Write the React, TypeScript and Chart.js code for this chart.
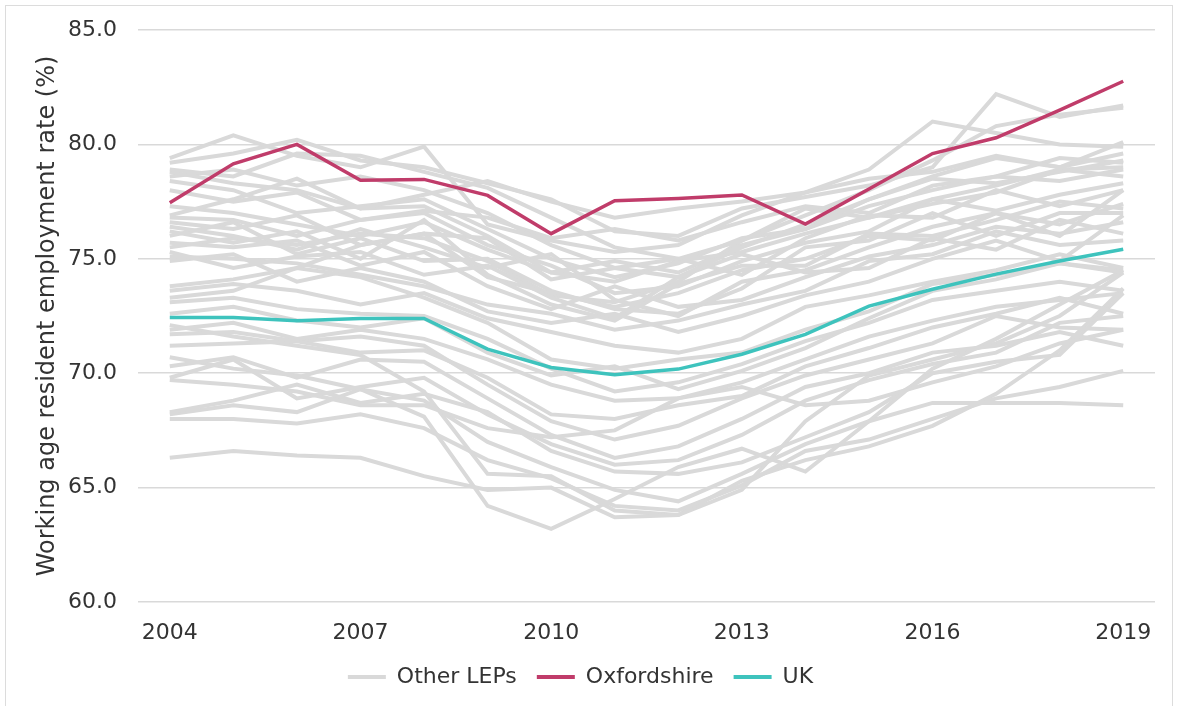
import React, { useEffect, useRef } from 'react';
import { Chart, registerables } from 'chart.js';

Chart.register(...registerables);

const years = ['2004', '2005', '2006', '2007', '2008', '2009', '2010', '2011', '2012', '2013', '2014', '2015', '2016', '2017', '2018', '2019'];
const xTickLabels = ['2004', '2007', '2010', '2013', '2016', '2019'];
const yTicks = [60, 65, 70, 75, 80, 85];

const oxfordshire = [77.45, 79.15, 80.0, 78.43, 78.47, 77.77, 76.1, 77.54, 77.64, 77.79, 76.52, 78.05, 79.6, 80.29, 81.5, 82.76];
const uk = [72.43, 72.43, 72.29, 72.39, 72.39, 71.05, 70.25, 69.93, 70.18, 70.83, 71.7, 72.93, 73.67, 74.33, 74.9, 75.42];

const lep01 = [79.4, 80.4, 79.5, 79.0, 79.9, 76.5, 75.8, 75.3, 75.6, 76.9, 77.9, 78.9, 81.0, 80.5, 80.0, 79.9];
const lep02 = [79.2, 79.6, 80.2, 79.3, 79.0, 78.3, 77.6, 76.2, 76.0, 77.2, 77.7, 78.2, 79.0, 82.2, 81.2, 81.7];
const lep03 = [78.9, 78.6, 79.6, 79.5, 78.8, 78.1, 76.8, 75.5, 75.0, 75.8, 76.9, 78.0, 79.3, 80.8, 81.3, 81.6];
const lep04 = [78.8, 78.3, 78.0, 77.2, 77.8, 78.4, 77.5, 76.8, 77.2, 77.5, 77.9, 78.5, 78.8, 79.5, 79.0, 80.1];
const lep05 = [78.6, 78.9, 78.2, 78.6, 78.0, 77.0, 75.6, 74.6, 74.2, 75.5, 76.5, 77.6, 78.5, 78.3, 78.8, 79.3];
const lep06 = [78.4, 78.0, 77.0, 77.3, 77.6, 76.3, 75.0, 74.2, 74.8, 75.9, 76.3, 77.3, 78.0, 78.6, 79.4, 79.2];
const lep07 = [78.0, 77.5, 77.9, 76.7, 77.1, 76.8, 75.9, 76.3, 75.8, 76.6, 77.3, 77.0, 78.2, 78.6, 78.4, 78.9];
const lep08 = [76.9, 77.6, 78.5, 77.2, 77.3, 76.0, 74.4, 74.0, 74.9, 75.3, 76.1, 76.8, 77.4, 77.9, 78.9, 78.6];
const lep09 = [76.8, 76.7, 76.0, 76.7, 77.0, 75.6, 74.7, 73.5, 73.8, 74.9, 75.7, 76.2, 77.6, 77.1, 77.8, 78.3];
const lep10 = [76.6, 76.3, 76.9, 75.6, 76.1, 75.9, 74.1, 74.6, 75.0, 74.3, 75.9, 76.9, 76.8, 78.0, 77.3, 78.0];
const lep11 = [76.4, 76.0, 75.4, 76.3, 75.5, 74.6, 75.2, 73.2, 72.5, 74.0, 74.5, 75.5, 76.4, 77.0, 76.5, 77.4];
const lep12 = [76.2, 75.7, 76.2, 75.0, 76.7, 74.3, 73.0, 72.3, 73.9, 74.7, 74.7, 76.1, 76.0, 76.7, 77.5, 77.2];
const lep13 = [76.0, 76.6, 75.2, 75.9, 74.9, 75.0, 73.6, 72.8, 72.6, 73.7, 75.5, 75.8, 77.0, 76.0, 77.0, 77.0];
const lep14 = [75.7, 75.5, 75.8, 74.7, 75.3, 73.8, 72.8, 73.8, 72.9, 73.2, 74.2, 75.1, 75.6, 76.4, 76.1, 76.6];
const lep15 = [75.3, 74.6, 75.1, 75.3, 74.3, 74.7, 73.3, 72.4, 74.2, 75.2, 74.4, 74.6, 75.9, 75.4, 76.7, 76.1];
const lep16 = [75.1, 75.0, 74.8, 74.3, 73.8, 73.0, 72.6, 71.9, 72.3, 73.0, 73.6, 74.9, 75.2, 76.2, 75.6, 75.8];
const lep17 = [73.8, 74.1, 74.6, 75.6, 76.1, 74.2, 73.5, 72.9, 73.5, 74.5, 75.0, 76.0, 75.8, 77.0, 76.0, 78.0];
const lep18 = [73.6, 73.9, 73.6, 73.0, 73.5, 72.4, 71.8, 71.2, 70.9, 71.5, 72.9, 73.4, 74.0, 74.5, 75.2, 74.6];
const lep19 = [73.3, 73.6, 74.6, 74.2, 73.3, 72.2, 70.6, 70.2, 70.6, 70.9, 71.9, 72.7, 73.9, 74.3, 74.8, 74.4];
const lep20 = [73.1, 73.3, 72.8, 72.6, 72.5, 71.5, 70.2, 69.2, 69.6, 70.4, 71.4, 72.2, 73.2, 73.6, 74.0, 73.6];
const lep21 = [71.9, 72.2, 71.5, 71.9, 71.5, 70.6, 69.5, 68.8, 68.9, 69.6, 70.6, 71.6, 72.3, 72.9, 73.2, 73.5];
const lep22 = [71.7, 71.8, 71.4, 70.9, 71.0, 69.8, 68.2, 68.0, 68.6, 69.0, 70.3, 71.1, 72.0, 72.6, 73.3, 72.6];
const lep23 = [71.2, 71.3, 71.4, 71.6, 71.2, 69.5, 67.9, 67.1, 67.7, 68.9, 69.9, 70.6, 71.3, 72.5, 72.0, 71.9];
const lep24 = [70.3, 70.7, 69.8, 70.6, 70.5, 68.9, 67.3, 66.3, 66.8, 68.0, 69.4, 70.0, 70.9, 71.2, 71.8, 71.2];
const lep25 = [69.8, 70.6, 68.9, 69.4, 69.8, 68.2, 66.9, 66.0, 66.2, 67.3, 68.8, 69.7, 70.4, 70.9, 72.2, 72.5];
const lep26 = [69.7, 69.5, 69.2, 68.6, 68.6, 67.6, 67.2, 67.5, 68.9, 69.4, 68.6, 68.8, 69.6, 70.3, 71.3, 71.9];
const lep27 = [68.3, 68.8, 69.5, 68.7, 69.1, 68.3, 66.6, 65.7, 65.6, 66.1, 67.2, 68.3, 70.0, 70.5, 70.8, 73.5];
const lep28 = [68.2, 68.6, 68.3, 69.3, 68.8, 67.0, 65.9, 64.9, 64.4, 65.6, 66.9, 67.9, 68.7, 68.7, 68.7, 68.6];
const lep29 = [68.0, 68.0, 67.8, 68.2, 67.6, 66.2, 65.4, 64.2, 64.0, 65.1, 66.6, 67.1, 68.0, 68.9, 69.4, 70.1];
const lep30 = [66.3, 66.6, 66.4, 66.3, 65.5, 64.9, 65.0, 63.7, 63.8, 65.3, 66.2, 66.8, 67.7, 69.1, 71.0, 73.7];
const lep31 = [70.7, 70.2, 69.9, 69.3, 68.1, 64.2, 63.2, 64.5, 65.9, 66.7, 65.7, 67.9, 70.2, 71.5, 73.0, 74.5];
const lep32 = [72.1, 71.6, 71.2, 70.8, 69.2, 65.6, 65.5, 64.0, 63.8, 64.9, 67.9, 69.9, 70.6, 71.3, 72.5, 74.4];
const lep33 = [77.3, 77.0, 76.5, 76.0, 76.6, 75.4, 74.4, 74.9, 74.4, 75.6, 76.3, 77.6, 78.6, 79.4, 79.0, 79.6];
const lep34 = [75.5, 75.9, 75.6, 76.1, 75.9, 74.9, 73.4, 73.1, 74.0, 75.8, 77.2, 76.8, 77.6, 78.2, 78.9, 79.0];
const lep35 = [74.9, 75.2, 74.0, 74.6, 74.0, 72.7, 72.2, 72.6, 71.8, 72.5, 73.4, 74.0, 75.0, 75.8, 74.9, 76.9];
const lep36 = [72.6, 72.9, 72.3, 72.0, 72.4, 70.9, 69.9, 70.3, 69.3, 70.1, 71.1, 72.4, 73.6, 74.1, 74.8, 74.5];

const otherLeps = [lep01, lep02, lep03, lep04, lep05, lep06, lep07, lep08, lep09, lep10, lep11, lep12,
  lep13, lep14, lep15, lep16, lep17, lep18, lep19, lep20, lep21, lep22, lep23, lep24,
  lep25, lep26, lep27, lep28, lep29, lep30, lep31, lep32, lep33, lep34, lep35, lep36];

const GREY = '#d9d9d9';
const OXF = '#c03c6a';
const UKC = '#3ec3bd';
const TEXT = '#333333';
const FONT = '"DejaVu Sans", sans-serif';
const FS = 22;

export default function App() {
  const ref = useRef<HTMLCanvasElement | null>(null);

  useEffect(() => {
    if (!ref.current) return;
    const datasets: any[] = [
      { label: 'Oxfordshire', data: oxfordshire, borderColor: OXF, backgroundColor: OXF, borderWidth: 3.5, pointRadius: 0, order: 0 },
      { label: 'UK', data: uk, borderColor: UKC, backgroundColor: UKC, borderWidth: 3.5, pointRadius: 0, order: 0 },
    ];
    otherLeps.forEach((d, i) => {
      datasets.push({ label: i === 0 ? 'Other LEPs' : '', data: d, borderColor: GREY, backgroundColor: GREY, borderWidth: 4, pointRadius: 0, order: 1 });
    });

    const chart = new Chart(ref.current, {
      type: 'line',
      data: { labels: years, datasets },
      options: {
        animation: false,
        responsive: true,
        maintainAspectRatio: false,
        layout: { padding: { top: 24, right: 17, bottom: 18, left: 0 } },
        plugins: {
          tooltip: { enabled: false },
          legend: {
            position: 'bottom',
            labels: {
              boxWidth: 38,
              boxHeight: 4,
              padding: 20,
              color: TEXT,
              font: { family: FONT, size: FS },
              generateLabels: () => [
                { text: 'Other LEPs', fillStyle: GREY, strokeStyle: GREY, lineWidth: 0, hidden: false, datasetIndex: 2, fontColor: TEXT },
                { text: 'Oxfordshire', fillStyle: OXF, strokeStyle: OXF, lineWidth: 0, hidden: false, datasetIndex: 0, fontColor: TEXT },
                { text: 'UK', fillStyle: UKC, strokeStyle: UKC, lineWidth: 0, hidden: false, datasetIndex: 1, fontColor: TEXT },
              ] as any,
            },
          },
        },
        scales: {
          x: {
            offset: true,
            afterFit: (s: any) => { s.height = 44; },
            grid: { display: false, drawTicks: false },
            border: { display: false },
            ticks: {
              autoSkip: false,
              maxRotation: 0,
              padding: 18,
              color: TEXT,
              font: { family: FONT, size: FS },
              callback: (_v: any, i: number) => (xTickLabels.includes(years[i]) ? years[i] : ''),
            },
          },
          y: {
            min: yTicks[0],
            max: yTicks[yTicks.length - 1],
            afterFit: (s: any) => { s.width = 132; s.paddingTop = 13; s.paddingBottom = 13; },
            afterBuildTicks: (s: any) => { s.ticks = yTicks.map((v) => ({ value: v })); },
            grid: { color: GREY, lineWidth: 1.5, drawTicks: false },
            border: { display: false },
            ticks: {
              padding: 21,
              color: TEXT,
              font: { family: FONT, size: FS },
              callback: (v: any) => Number(v).toFixed(1),
            },
            title: {
              display: true,
              text: 'Working age resident employment rate (%)',
              color: TEXT,
              font: { family: FONT, size: 24 },
              padding: { top: 27, bottom: 0 },
            },
          },
        },
      },
    });
    return () => chart.destroy();
  }, []);

  return (
    <div style={{ position: 'fixed', left: 0, top: 0, width: 1178, height: 706, background: '#fff', overflow: 'hidden' }}>
      <div style={{ position: 'absolute', left: 5, top: 5, width: 1168, height: 720, border: '1px solid #dcdcdc', boxSizing: 'border-box' }} />
      <div style={{ position: 'absolute', left: 6, top: 6, width: 1166, height: 710 }}>
        <canvas ref={ref} />
      </div>
    </div>
  );
}
